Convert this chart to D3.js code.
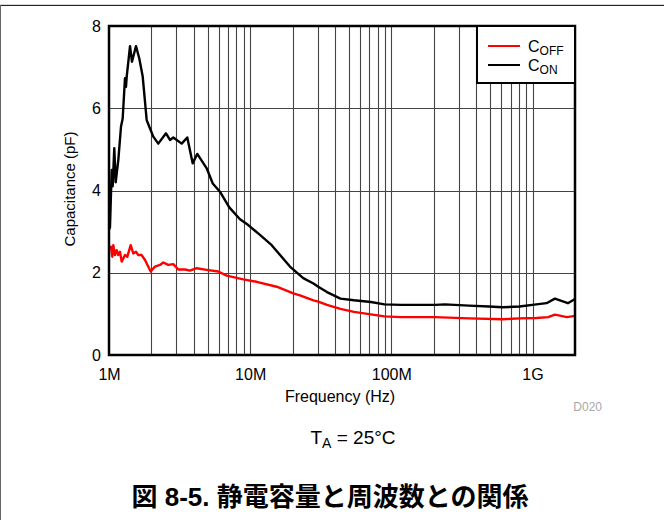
<!DOCTYPE html>
<html>
<head>
<meta charset="utf-8">
<script src="https://cdn.jsdelivr.net/npm/d3@7"></script>
<style>
  html, body { margin: 0; padding: 0; background: #fff; }
  svg { display: block; }
</style>
</head>
<body>
<svg id="chart" width="664" height="520"></svg>
<script>
// ---- data (frequency in MHz, capacitance in pF) ----
const conFreq = [1.0, 1.016, 1.045, 1.062, 1.090, 1.115, 1.164, 1.216, 1.250, 1.298, 1.319, 1.335, 1.409, 1.455, 1.553, 1.639, 1.733, 1.849, 1.930, 2.06, 2.234, 2.533, 2.704, 2.854, 3.273, 3.585, 3.915, 4.221, 4.92, 5.43, 6.11, 7.11, 8.47, 9.69, 11.73, 14.21, 19.13, 23.77, 28.08, 30.36, 34.99, 43.61, 54.35, 71.7, 89.4, 117, 203.6, 239.6, 354.4, 491, 614, 809, 1066, 1257, 1441, 1781, 2000];
const conCap  = [3.05, 3.1, 4.5, 4.1, 5.03, 4.2, 4.74, 5.55, 5.75, 6.73, 6.52, 6.77, 7.51, 7.13, 7.51, 7.21, 6.77, 5.71, 5.55, 5.31, 5.14, 5.39, 5.23, 5.29, 5.14, 5.29, 4.66, 4.89, 4.54, 4.17, 3.97, 3.59, 3.30, 3.16, 2.92, 2.67, 2.15, 1.87, 1.74, 1.66, 1.53, 1.37, 1.33, 1.29, 1.23, 1.22, 1.22, 1.23, 1.20, 1.18, 1.16, 1.18, 1.23, 1.26, 1.37, 1.26, 1.36];
const offFreq = [1.0, 1.033, 1.055, 1.073, 1.103, 1.134, 1.164, 1.196, 1.230, 1.298, 1.348, 1.424, 1.486, 1.553, 1.612, 1.704, 1.799, 1.974, 2.117, 2.297, 2.424, 2.630, 2.854, 3.096, 3.453, 3.747, 4.18, 4.92, 5.94, 6.82, 8.94, 11.12, 15.41, 20.20, 22.53, 28.08, 30.36, 34.99, 43.61, 54.35, 67.8, 89.4, 117, 203.6, 354.4, 614, 809, 1066, 1292, 1441, 1752, 2000];
const offCap  = [2.6, 2.63, 2.39, 2.67, 2.43, 2.55, 2.43, 2.51, 2.27, 2.43, 2.39, 2.67, 2.47, 2.51, 2.43, 2.43, 2.31, 2.03, 2.15, 2.19, 2.25, 2.19, 2.21, 2.08, 2.08, 2.05, 2.11, 2.07, 2.03, 1.93, 1.84, 1.78, 1.66, 1.50, 1.45, 1.33, 1.30, 1.22, 1.12, 1.05, 1.00, 0.94, 0.92, 0.92, 0.89, 0.87, 0.89, 0.90, 0.92, 0.98, 0.92, 0.95];

const xTickValues = [1e6, 1e7, 1e8, 1e9];
const xTickLabels = ["1M", "10M", "100M", "1G"];
const yTickValues = [0, 2, 4, 6, 8];
const seriesNames = ["OFF", "ON"];
const seriesColors = ["#ff0000", "#000000"];

// ---- layout ----
const svg = d3.select("#chart");
const L = 109, R = 575, T = 26, B = 355;

const x = d3.scaleLog().domain([1e6, 2e9]).range([L, R]);
const y = d3.scaleLinear().domain([0, 8]).range([B, T]);

// outer frame lines
svg.append("line").attr("x1", 0).attr("x2", 664).attr("y1", 4.5).attr("y2", 4.5)
  .attr("stroke", "#d8d8d8").attr("stroke-width", 1);
svg.append("line").attr("x1", 0).attr("x2", 664).attr("y1", 5.5).attr("y2", 5.5)
  .attr("stroke", "#222").attr("stroke-width", 1.2);
svg.append("line").attr("x1", 0.5).attr("x2", 0.5).attr("y1", 5).attr("y2", 520)
  .attr("stroke", "#666").attr("stroke-width", 1);

// grid
const grid = svg.append("g");
x.ticks().filter(v => v > 1e6 && v < 2e9).forEach(v => {
  grid.append("line")
    .attr("x1", Math.round(x(v)) + 0.5).attr("x2", Math.round(x(v)) + 0.5)
    .attr("y1", T).attr("y2", B)
    .attr("stroke", "#444").attr("stroke-width", 1.1);
});
[2, 4, 6].forEach(v => {
  grid.append("line")
    .attr("x1", L).attr("x2", R)
    .attr("y1", Math.round(y(v)) + 0.5).attr("y2", Math.round(y(v)) + 0.5)
    .attr("stroke", "#444").attr("stroke-width", 1.1);
});

// series
const line = d3.line().x(d => x(d[0] * 1e6)).y(d => y(d[1]));
const offData = offFreq.map((f, i) => [f, offCap[i]]);
const conData = conFreq.map((f, i) => [f, conCap[i]]);

svg.append("path").datum(offData).attr("d", line)
  .attr("fill", "none").attr("stroke", seriesColors[0]).attr("stroke-width", 2.4)
  .attr("stroke-linejoin", "round");
svg.append("path").datum(conData).attr("d", line)
  .attr("fill", "none").attr("stroke", seriesColors[1]).attr("stroke-width", 2.4)
  .attr("stroke-linejoin", "round");

// plot border
svg.append("rect").attr("x", L).attr("y", T).attr("width", R - L).attr("height", B - T)
  .attr("fill", "none").attr("stroke", "#000").attr("stroke-width", 2.5);

// axes (labels only)
const font = "'Liberation Sans', Arial, sans-serif";
const xAxis = d3.axisBottom(x).tickValues(xTickValues)
  .tickFormat((d, i) => xTickLabels[i]).tickSize(0).tickPadding(14);
const gx = svg.append("g").attr("transform", `translate(0,${B})`).call(xAxis);
gx.select(".domain").remove();
gx.selectAll("text").attr("font-family", font).attr("font-size", 16).attr("fill", "#000");

const yAxis = d3.axisLeft(y).tickValues(yTickValues).tickSize(0).tickPadding(8);
const gy = svg.append("g").attr("transform", `translate(${L},0)`).call(yAxis);
gy.select(".domain").remove();
gy.selectAll("text").attr("font-family", font).attr("font-size", 16).attr("fill", "#000");

// axis titles
svg.append("text").attr("x", 340).attr("y", 402).attr("text-anchor", "middle")
  .attr("font-family", font).attr("font-size", 16).text("Frequency (Hz)");
svg.append("text").attr("transform", "translate(75,189) rotate(-90)")
  .attr("text-anchor", "middle").attr("font-family", font).attr("font-size", 15)
  .text("Capacitance (pF)");
svg.append("text").attr("x", 602).attr("y", 411).attr("text-anchor", "end")
  .attr("font-family", font).attr("font-size", 12).attr("fill", "#a8a8a8").text("D020");

// legend
const lg = svg.append("g");
lg.append("rect").attr("x", 477).attr("y", T).attr("width", R - 477).attr("height", 57)
  .attr("fill", "#fff").attr("stroke", "#000").attr("stroke-width", 2);
seriesNames.forEach((n, i) => {
  const ly = 46 + i * 19;
  lg.append("line").attr("x1", 488).attr("x2", 520).attr("y1", ly).attr("y2", ly)
    .attr("stroke", seriesColors[i]).attr("stroke-width", 2);
  const t = lg.append("text").attr("x", 528).attr("y", ly + 6)
    .attr("font-family", font).attr("font-size", 16);
  t.append("tspan").text("C");
  t.append("tspan").attr("font-size", 12).attr("dy", 3).text(n);
});

// condition text
const ta = svg.append("text").attr("x", 353).attr("y", 444).attr("text-anchor", "middle")
  .attr("font-family", font).attr("font-size", 19);
ta.append("tspan").text("T");
ta.append("tspan").attr("font-size", 14).attr("dy", 4).text("A");
ta.append("tspan").attr("dy", -4).text(" = 25°C");

// caption
svg.append("text").attr("x", 330).attr("y", 506).attr("text-anchor", "middle")
  .attr("font-family", "'Liberation Sans', 'Noto Sans CJK JP', sans-serif")
  .attr("font-weight", "bold").attr("font-size", 26)
  .text("図 8-5. 静電容量と周波数との関係");
</script>
</body>
</html>
